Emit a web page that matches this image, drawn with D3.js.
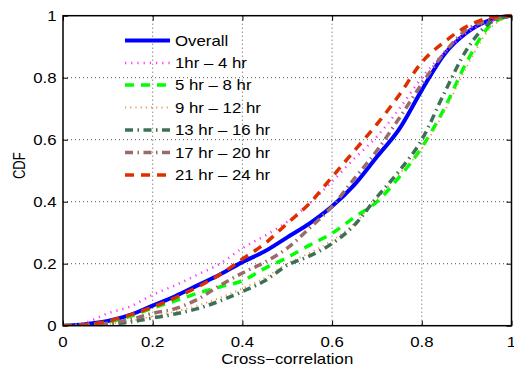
<!DOCTYPE html>
<html><head><meta charset="utf-8">
<script src="https://cdn.jsdelivr.net/npm/d3@7"></script>
<style>
html,body{margin:0;padding:0;background:#fff;}
svg{display:block;font-family:"Liberation Sans",Arial,Helvetica,sans-serif;}
</style></head>
<body>
<svg id="chart" width="514" height="368"></svg>
<script>
// ---- data ----
const xs = [0,0.05,0.1,0.15,0.2,0.25,0.3,0.35,0.4,0.45,0.5,0.55,0.6,0.65,0.7,0.75,0.8,0.85,0.9,0.95,1];
const overall = [0,0.005,0.015,0.035,0.065,0.095,0.13,0.165,0.205,0.24,0.285,0.33,0.385,0.455,0.545,0.635,0.76,0.875,0.945,0.985,1];
const h1_4   = [0,0.01,0.04,0.062,0.1,0.13,0.165,0.2,0.25,0.29,0.335,0.395,0.465,0.54,0.61,0.7,0.8,0.88,0.945,0.98,1];
const h5_8   = [0,0.003,0.012,0.03,0.057,0.08,0.105,0.125,0.145,0.185,0.22,0.26,0.298,0.35,0.4,0.48,0.575,0.70,0.85,0.965,1];
const h9_12  = [0,0.001,0.006,0.015,0.03,0.045,0.065,0.09,0.12,0.155,0.2,0.235,0.275,0.33,0.41,0.49,0.57,0.69,0.835,0.955,1];
const h13_16 = [0,0.001,0.005,0.012,0.025,0.038,0.055,0.08,0.11,0.145,0.195,0.225,0.265,0.325,0.415,0.5,0.6,0.75,0.89,0.975,1];
const h17_20 = [0,0.002,0.008,0.02,0.04,0.055,0.085,0.13,0.17,0.205,0.25,0.315,0.385,0.475,0.565,0.67,0.78,0.88,0.955,0.985,1];
const h21_24 = [0,0.003,0.015,0.035,0.06,0.09,0.125,0.165,0.215,0.265,0.33,0.395,0.48,0.565,0.65,0.745,0.85,0.915,0.965,0.993,1];
const seriesNames = ["Overall","1hr \u2013 4 hr","5 hr \u2013 8 hr","9 hr \u2013 12 hr","13 hr \u2013 16 hr","17 hr \u2013 20 hr","21 hr \u2013 24 hr"];
const xTicks = [0,0.2,0.4,0.6,0.8,1];
const yTicks = [0,0.2,0.4,0.6,0.8,1];
const xTickLabels = ["0","0.2","0.4","0.6","0.8","1"];
const yTickLabels = ["0","0.2","0.4","0.6","0.8","1"];

// ---- styles ----
const styles = [
  {color:"#0000ff", width:4,   dash:null},
  {color:"#ff33ff", width:2.5, dash:"1.2,5"},
  {color:"#00ff00", width:3.5, dash:"9,7"},
  {color:"#ee9a4a", width:1.8, dash:"1.2,4"},
  {color:"#3d7156", width:3.5, dash:"8,4.5,1.5,4.5"},
  {color:"#9b6a6a", width:3.5, dash:"8,4.5,1.5,4.5"},
  {color:"#dd3000", width:3.5, dash:"9,7"}
];
const allSeries = [overall,h1_4,h5_8,h9_12,h13_16,h17_20,h21_24];

const svg = d3.select("#chart");
const L = 63, R = 511.5, T = 15.7, B = 325.7;
const SX = 1.2, FS = 14;
const x = d3.scaleLinear().domain([0,1]).range([L,R]);
const y = d3.scaleLinear().domain([0,1]).range([B,T]);

function stext(px, py, str, anchor, dy){
  return svg.append("text")
    .attr("transform",`translate(${px},${py}) scale(${SX},1)`)
    .attr("text-anchor",anchor).attr("dy",dy||0)
    .attr("font-size",FS).attr("fill","#000").text(str);
}

// grid
const grid = svg.append("g");
xTicks.slice(1,-1).forEach(t=>{
  grid.append("line").attr("x1",x(t)).attr("x2",x(t)).attr("y1",T).attr("y2",B)
    .attr("stroke","#555").attr("stroke-width",1).attr("stroke-dasharray","1,3");
});
yTicks.slice(1,-1).forEach(t=>{
  grid.append("line").attr("x1",L).attr("x2",R).attr("y1",y(t)).attr("y2",y(t))
    .attr("stroke","#555").attr("stroke-width",1).attr("stroke-dasharray","1,3");
});

// curves
const line = d3.line().x((d,i)=>x(xs[i])).y(d=>y(d)).curve(d3.curveMonotoneX);
svg.append("clipPath").attr("id","clip").append("rect")
  .attr("x",L).attr("y",T-3).attr("width",R-L+3).attr("height",B-T+3);
const curves = svg.append("g").attr("clip-path","url(#clip)");
allSeries.forEach((s,i)=>{
  const st = styles[i];
  curves.append("path").datum(s).attr("d",line).attr("fill","none")
    .attr("stroke",st.color).attr("stroke-width",st.width)
    .attr("stroke-dasharray",st.dash).attr("stroke-linejoin","round");
});

// tick marks (inward, all four sides)
const gx = svg.append("g").attr("transform",`translate(0,${B})`).call(d3.axisBottom(x).tickValues(xTicks).tickFormat("").tickSize(-5));
const gy = svg.append("g").attr("transform",`translate(${L},0)`).call(d3.axisLeft(y).tickValues(yTicks).tickFormat("").tickSize(-5));
const gxt = svg.append("g").attr("transform",`translate(0,${T})`).call(d3.axisTop(x).tickValues(xTicks).tickFormat("").tickSize(-5));
const gyr = svg.append("g").attr("transform",`translate(${R},0)`).call(d3.axisRight(y).tickValues(yTicks).tickFormat("").tickSize(-5));
[gx,gy,gxt,gyr].forEach(g=>{
  g.select(".domain").remove();
  g.selectAll(".tick line").attr("stroke","#000").attr("stroke-width",1);
});
svg.append("rect").attr("x",L).attr("y",T).attr("width",R-L).attr("height",B-T)
  .attr("fill","none").attr("stroke","#000").attr("stroke-width",1.5);

// tick labels
xTicks.forEach((t,i)=>stext(x(t), 347, xTickLabels[i], "middle"));
yTicks.forEach((t,i)=>stext(56.5, y(t), yTickLabels[i], "end", "0.36em"));

// axis labels
stext(x(0.5), 364, "Cross\u2212correlation", "middle");
svg.append("text").attr("transform",`translate(24.5,${y(0.5)-5}) scale(${SX},1) rotate(-90)`)
  .attr("text-anchor","middle").attr("font-size",13).attr("fill","#000").text("CDF");

// legend
const legY = [40.5,63,85,107.5,130,152.5,175];
const leg = svg.append("g");
seriesNames.forEach((n,i)=>{
  const st = styles[i];
  leg.append("line").attr("x1",125).attr("x2",170).attr("y1",legY[i]).attr("y2",legY[i])
    .attr("stroke",st.color).attr("stroke-width",st.width).attr("stroke-dasharray",st.dash);
  stext(175, legY[i], n, "start", "0.36em");
});
</script>
</body></html>
